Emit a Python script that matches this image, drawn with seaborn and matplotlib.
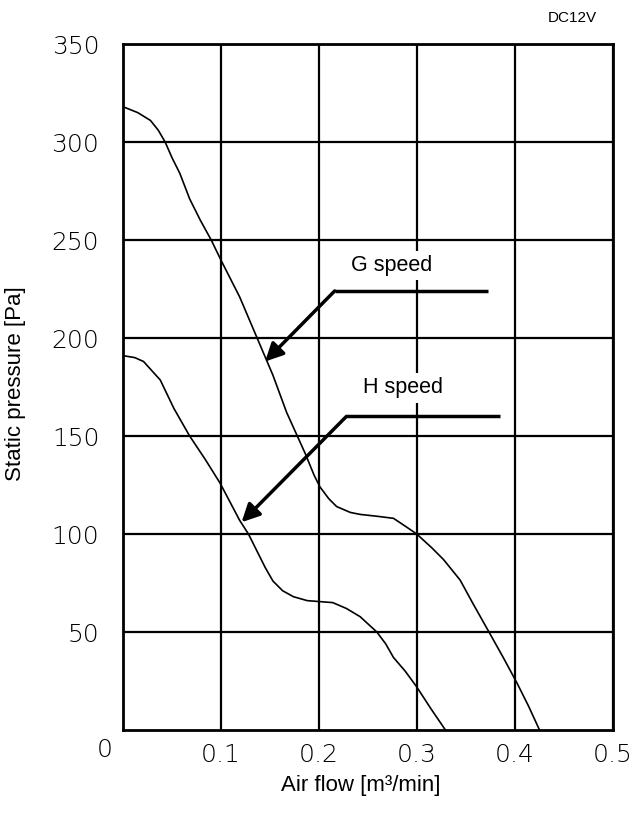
import matplotlib
matplotlib.use("Agg")
import matplotlib.pyplot as plt
import seaborn as sns
import pandas as pd

# ---- data ----
g_flow = [0, 0.015, 0.028, 0.036, 0.043, 0.05, 0.058, 0.068, 0.079, 0.09, 0.1007, 0.119,
          0.136, 0.153, 0.167, 0.186, 0.195, 0.201, 0.21, 0.218, 0.232, 0.242, 0.26, 0.276,
          0.288, 0.2997, 0.315, 0.327, 0.344, 0.357, 0.374, 0.388, 0.402, 0.414, 0.425]
g_pres = [318, 315, 311, 306, 300, 292, 284, 271, 260, 250, 239, 221,
          201, 181, 162, 141, 130, 124, 118, 114, 111, 110, 109, 108,
          104, 100, 93, 87, 76.5, 64.6, 49.5, 37, 24, 12, 0]

h_flow = [0, 0.012, 0.021, 0.03, 0.038, 0.052, 0.068, 0.084, 0.099, 0.119, 0.128, 0.136,
          0.145, 0.153, 0.163, 0.174, 0.188, 0.201, 0.214, 0.228, 0.242, 0.259, 0.268,
          0.276, 0.288, 0.2997, 0.314, 0.329]
h_pres = [191, 190, 188, 183, 178.6, 164, 150, 138, 126, 107, 100, 92,
          83, 76, 71, 68, 66, 65.5, 65, 62, 57.8, 50, 44,
          37, 30, 22, 11, 0]

x_ticks = [0.1, 0.2, 0.3, 0.4, 0.5]
x_ticklabels = ["0.1", "0.2", "0.3", "0.4", "0.5"]
y_ticks = [50, 100, 150, 200, 250, 300, 350]
y_ticklabels = ["50", "100", "150", "200", "250", "300", "350"]

series_labels = ["G speed", "H speed"]
# annotation: label pos, elbow line right end, elbow corner, arrow tip
g_label = (0.274, 237)
g_line = [(0.372, 224), (0.216, 224)]
g_tip = (0.145, 188)
h_label = (0.286, 174.5)
h_line = [(0.385, 160), (0.228, 160)]
h_tip = (0.121, 106)

df = pd.concat([
    pd.DataFrame({"flow": g_flow, "pres": g_pres, "s": "G"}),
    pd.DataFrame({"flow": h_flow, "pres": h_pres, "s": "H"}),
])

sns.set_theme(style="white")
plt.rcParams['font.family'] = ['Liberation Sans', 'DejaVu Sans']

fig = plt.figure(figsize=(6.38, 8.16), dpi=100)
ax = fig.add_axes([123/638, 86/816, 490/638, 686/816])

sns.lineplot(data=df, x="flow", y="pres", units="s", estimator=None, sort=False,
             color="black", linewidth=1.2, ax=ax, legend=False)

ax.set_xlim(0, 0.5)
ax.set_ylim(0, 350)
ax.set_xticks(x_ticks)
ax.set_xticklabels(x_ticklabels)
ax.set_yticks(y_ticks)
ax.set_yticklabels(y_ticklabels)
ax.grid(True, color="black", linewidth=1.6)
ax.set_axisbelow(True)
for sp in ax.spines.values():
    sp.set_color("black")
    sp.set_linewidth(2.0)
ax.tick_params(axis="both", length=0, colors="black")
ax.tick_params(axis="y", pad=17)
ax.tick_params(axis="x", pad=9)
for lab in ax.get_xticklabels() + ax.get_yticklabels():
    lab.set_fontfamily(["DejaVu Sans"])
    lab.set_fontsize(18)
    lab.set_fontweight("light")

ax.text(-0.037, -0.029, "0", transform=ax.transAxes, ha="center", va="center",
        fontfamily=["DejaVu Sans"], fontsize=18, fontweight="light", color="black")

ax.set_xlabel("Air flow [m³/min]", fontsize=16, color="black")
ax.set_ylabel("Static pressure [Pa]", fontsize=16, color="black")
ax.xaxis.set_label_coords(0.485, -0.066)
ax.yaxis.set_label_coords(-0.198, 0.505)

# annotations
for lab, (lx, ly), line, tip in [(series_labels[0], g_label, g_line, g_tip),
                                 (series_labels[1], h_label, h_line, h_tip)]:
    ax.text(lx, ly, lab, ha="center", va="center", fontsize=15.5, zorder=5, color="black",
            bbox=dict(facecolor="white", edgecolor="none", pad=3))
    ax.plot([line[0][0], line[1][0]], [line[0][1], line[1][1]], color="black",
            linewidth=2.5, zorder=6, solid_capstyle="butt")
    ax.annotate("", xy=tip, xytext=line[1], zorder=6,
                arrowprops=dict(arrowstyle="-|>,head_length=0.9,head_width=0.45",
                                color="black", linewidth=2.5, shrinkA=0, shrinkB=0))

fig.text(572/638, 1 - 18/816, "DC12V", ha="center", va="center", fontsize=11, color="black")

fig.savefig("out.png", dpi=100, facecolor="white")
